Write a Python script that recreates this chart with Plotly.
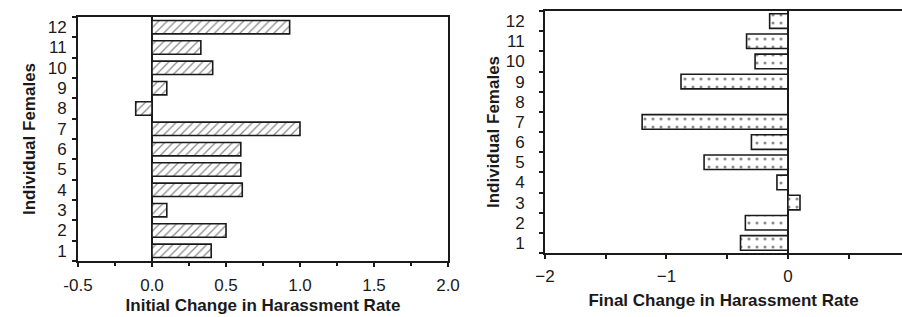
import plotly.graph_objects as go

females = ["1", "2", "3", "4", "5", "6", "7", "8", "9", "10", "11", "12"]
initial_change = [0.40, 0.50, 0.10, 0.61, 0.60, 0.60, 1.00, -0.11, 0.10, 0.41, 0.33, 0.93]
final_change = [-0.39, -0.35, 0.10, -0.09, -0.69, -0.30, -1.20, 0.0, -0.88, -0.27, -0.34, -0.15]

left_tickvals = [-0.5, 0.0, 0.5, 1.0, 1.5, 2.0]
left_ticktext = ["-0.5", "0.0", "0.5", "1.0", "1.5", "2.0"]
right_tickvals = [-2, -1, 0]
right_ticktext = ["\u22122", "\u22121", "0"]

W, H = 902, 317
FONT = "Liberation Sans, Arial, Helvetica, sans-serif"
INK = "#1a1a1a"

fig = go.Figure()

fig.add_trace(go.Bar(
    x=initial_change, y=females, orientation="h",
    xaxis="x", yaxis="y",
    marker=dict(color="white",
                line=dict(color=INK, width=1.6),
                pattern=dict(shape="/", fgcolor=INK, bgcolor="white", size=6, solidity=0.22)),
    width=0.66, showlegend=False, hoverinfo="x+y",
))

fig.add_trace(go.Bar(
    x=final_change, y=females, orientation="h",
    xaxis="x2", yaxis="y2",
    marker=dict(color="white",
                line=dict(color=INK, width=1.6),
                pattern=dict(shape=".", fgcolor=INK, bgcolor="white", size=8, solidity=0.12)),
    width=0.72, showlegend=False, hoverinfo="x+y",
))

def px_x(a, b):
    return [a / W, b / W]

def px_y(top, bottom):
    return [(H - bottom) / H, (H - top) / H]

tickfont = dict(family=FONT, size=17, color=INK)
titlefont = dict(family=FONT, size=17, color=INK, weight="bold")

fig.update_layout(
    width=W, height=H,
    margin=dict(l=0, r=0, t=0, b=0),
    paper_bgcolor="white", plot_bgcolor="white",
    bargap=0.3,
    xaxis=dict(
        domain=px_x(78, 448), anchor="y", automargin=False,
        range=[-0.5, 2.0], tickvals=left_tickvals, ticktext=left_ticktext,
        ticks="outside", ticklen=4, tickwidth=1.5, tickcolor=INK,
        ticklabelstandoff=4,
        minor=dict(dtick=0.25, tick0=0, ticks="outside", ticklen=3, tickwidth=1.5, tickcolor=INK),
        showline=True, linecolor=INK, linewidth=2, mirror=True,
        showgrid=False, zeroline=True, zerolinecolor=INK, zerolinewidth=2,
        tickfont=tickfont,
        title=dict(text="Initial Change in Harassment Rate", font=titlefont, standoff=5),
    ),
    yaxis=dict(
        domain=px_y(17, 261), anchor="x", automargin=False,
        type="category", categoryorder="array", categoryarray=females,
        tickson="boundaries", ticks="outside", ticklen=4, tickwidth=1.5, tickcolor=INK,
        ticklabelstandoff=6,
        showline=True, linecolor=INK, linewidth=2, mirror=True,
        showgrid=False, tickfont=tickfont,
        title=dict(text="Individual Females", font=titlefont, standoff=8),
    ),
    xaxis2=dict(
        domain=px_x(545, 902), anchor="y2", automargin=False,
        range=[-2.0, 0.94], tickvals=right_tickvals, ticktext=right_ticktext,
        ticks="outside", ticklen=4, tickwidth=1.5, tickcolor=INK,
        ticklabelstandoff=3,
        minor=dict(dtick=0.5, tick0=0, ticks="outside", ticklen=4, tickwidth=1.5, tickcolor=INK),
        showline=True, linecolor=INK, linewidth=2, mirror=True,
        showgrid=False, zeroline=True, zerolinecolor=INK, zerolinewidth=2,
        tickfont=tickfont,
        title=dict(text="Final Change in Harassment Rate", font=titlefont, standoff=9),
    ),
    yaxis2=dict(
        domain=px_y(11, 253), anchor="x2", automargin=False,
        type="category", categoryorder="array", categoryarray=females,
        tickson="boundaries", ticks="outside", ticklen=4, tickwidth=1.5, tickcolor=INK,
        ticklabelstandoff=15,
        showline=True, linecolor=INK, linewidth=2, mirror=False,
        showgrid=False, tickfont=tickfont,
        title=dict(text="Individual Females", font=titlefont, standoff=2),
    ),
)

fig.write_html("out.html", config={"displayModeBar": False},
               post_script="document.body.style.margin='0';")
